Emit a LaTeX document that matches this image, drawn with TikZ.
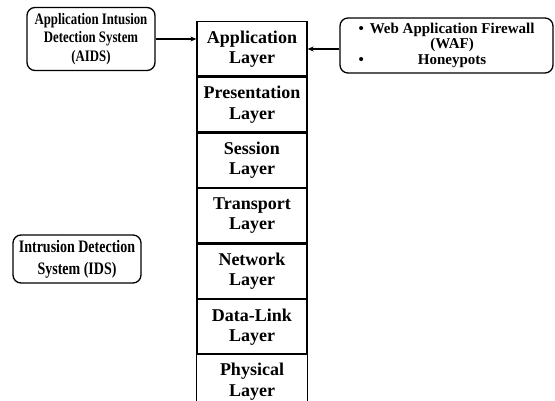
\documentclass[tikz,border=0pt]{standalone}
\usepackage{fontspec}
\setmainfont{Liberation Serif}
\newfontfamily\condA[FakeStretch=0.8]{Liberation Serif}
\usetikzlibrary{arrows.meta}
\tikzset{
  layerbox/.style={draw, line width=1.3pt, minimum width=110pt, minimum height=54.3pt, inner sep=0pt, align=center, font=\fontsize{18}{20.5}\selectfont\bfseries},
  layeropen/.style={minimum width=110pt, minimum height=53pt, inner sep=0pt, align=center, font=\fontsize{18}{20.5}\selectfont\bfseries},
  sidebox/.style={draw, line width=1.3pt, rounded corners=8pt, inner sep=0pt, align=center},
  conn/.style={line width=1.6pt, -{Stealth[length=6pt,width=5pt]}}
}
\begin{document}
\begin{tikzpicture}[x=1pt,y=1pt]
\useasboundingbox (0,0) rectangle (555,401);
% layers
\node[layerbox] (L1) at (252,352) {Application\\Layer};
\node[layerbox, anchor=north] (L2) at (L1.south) {Presentation\\Layer};
\node[layerbox, anchor=north] (L3) at (L2.south) {Session\\Layer};
\node[layerbox, anchor=north] (L4) at (L3.south) {Transport\\Layer};
\node[layerbox, anchor=north] (L5) at (L4.south) {Network\\Layer};
\node[layerbox, anchor=north] (L6) at (L5.south) {Data-Link\\Layer};
\node[layeropen, anchor=north] (L7) at (L6.south) {Physical\\Layer};
\draw[line width=1.3pt] (L7.south west) -- (L7.north west) -- (L7.north east) -- (L7.south east);
% side boxes
\node[sidebox, minimum width=128pt, minimum height=63pt, font=\condA\fontsize{16}{18.5}\selectfont\bfseries] (AIDS) at (91,362) {Application Intusion\\Detection System\\(AIDS)};
\node[sidebox, minimum width=213pt, minimum height=55pt, font=\fontsize{15}{15.5}\selectfont\bfseries] (WAF) at (446.5,355.5) {\begin{tabular}{@{}l@{\hspace{6pt}}c@{}}\textbullet & Web Application Firewall\\ & (WAF)\\ \textbullet & Honeypots\end{tabular}};
\node[sidebox, minimum width=128pt, minimum height=48pt, font=\condA\fontsize{17.5}{22}\selectfont\bfseries] (IDS) at (77,142) {Intrusion Detection\\System (IDS)};
% connectors
\draw[conn] (AIDS.east) -- (L1.west |- AIDS.east);
\draw[conn] (WAF.west |- L1.east) -- (L1.east);
\end{tikzpicture}
\end{document}
